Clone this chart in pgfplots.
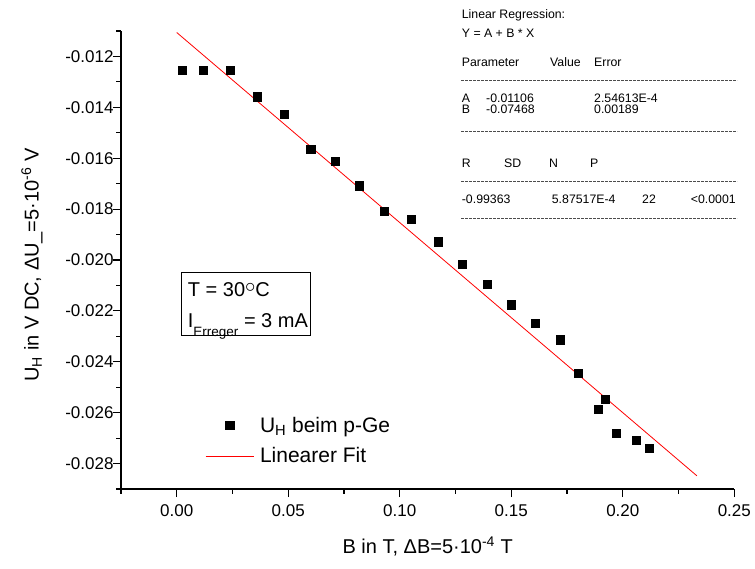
\documentclass[border=0pt]{standalone}
\usepackage{fontspec}
\setmainfont{Liberation Sans}
\usepackage{pgfplots}
\pgfplotsset{compat=1.18}
\newcommand\tabfont{\fontsize{12.3bp}{14bp}\selectfont}
\begin{document}
\begin{tikzpicture}
\begin{axis}[
  scale only axis, width=613.3bp, height=458bp,
  xmin=-0.025, xmax=0.25, ymin=-0.029, ymax=-0.011,
  axis lines*=left,
  axis line style={line width=1.3bp},
  tick style={line width=1.1bp, black},
  tick align=outside,
  major tick length=8bp, minor tick length=4.5bp,
  xtick={0,0.05,0.1,0.15,0.2,0.25},
  minor xtick={-0.025,0.025,0.075,0.125,0.175,0.225},
  ytick={-0.028,-0.026,-0.024,-0.022,-0.020,-0.018,-0.016,-0.014,-0.012},
  minor ytick={-0.029,-0.027,-0.025,-0.023,-0.021,-0.019,-0.017,-0.015,-0.013,-0.011},
  scaled x ticks=false, scaled y ticks=false,
  xticklabel style={yshift=-4bp, /pgf/number format/.cd, fixed, fixed zerofill, precision=2},
  yticklabel style={xshift=4bp, /pgf/number format/.cd, fixed, fixed zerofill, precision=3},
  /pgf/number format/assume math mode=true,
  ticklabel style={font=\fontsize{17bp}{19bp}\selectfont},
  xlabel={B in T, ΔB=5·10\textsuperscript{-4} T},
  ylabel={U\textsubscript{H} in V DC, ΔU\_=5·10\textsuperscript{-6} V},
  label style={font=\fontsize{20bp}{22bp}\selectfont},
  x label style={at={(axis description cs:0.5,-0.126)}, anchor=center},
  y label style={at={(axis description cs:-0.145,0.489)}, anchor=center},
  legend cell align=left,
  legend image code/.code={\draw[mark repeat=2,mark phase=2] plot coordinates {(0bp,0bp) (24bp,0bp) (48bp,0bp)};},
  legend style={draw=none, fill=none, at={(axis description cs:0.137,0.162)}, anchor=north west,
    font=\fontsize{21bp}{23bp}\selectfont, row sep=10bp, inner sep=0pt,
    /tikz/every odd column/.append style={column sep=4bp}},
]
\addplot[only marks, mark=square*, mark size=4.1bp, black] coordinates {
(0.0023,-0.01254) (0.0120,-0.01253) (0.0241,-0.01255) (0.0361,-0.01358)
(0.0480,-0.01427) (0.0601,-0.01564) (0.0710,-0.01612) (0.0819,-0.01708)
(0.0930,-0.01808) (0.1051,-0.01840) (0.1172,-0.01928) (0.1281,-0.02018)
(0.1391,-0.02095) (0.1500,-0.02176) (0.1609,-0.02247) (0.1720,-0.02313)
(0.1800,-0.02444) (0.1890,-0.02586) (0.1921,-0.02546) (0.1972,-0.02680)
(0.2060,-0.02709) (0.2120,-0.02739)
};
\addlegendentry{U\textsubscript{H} beim p-Ge}
\addplot[red, line width=0.8bp, no marks] coordinates {(0,-0.01106) (0.2332,-0.02848)};
\addlegendentry{Linearer Fit}
\end{axis}
% annotation box
\draw[line width=1bp] (60bp,153bp) rectangle (189bp,216bp);
\node[anchor=base west, inner sep=0pt, font=\fontsize{20bp}{22bp}\selectfont] at (66.7bp,192.3bp) {T = 30\raisebox{0.2em}{$\circ$}C};
\node[anchor=base west, inner sep=0pt, font=\fontsize{20bp}{22bp}\selectfont] at (66.7bp,161bp) {I\raisebox{-0.45em}{\fontsize{13.5bp}{14bp}\selectfont Erreger} = 3 mA};
% regression table
\node[anchor=base west, inner sep=0pt, font=\tabfont] at (340.7bp,470.7bp) {Linear Regression:};
\node[anchor=base west, inner sep=0pt, font=\tabfont] at (340.7bp,451.3bp) {Y = A + B * X};
\node[anchor=base west, inner sep=0pt, font=\tabfont] at (340.7bp,422.3bp) {Parameter};
\node[anchor=base west, inner sep=0pt, font=\tabfont] at (429bp,422.3bp) {Value};
\node[anchor=base west, inner sep=0pt, font=\tabfont] at (473bp,422.3bp) {Error};
\node[anchor=base west, inner sep=0pt, font=\tabfont] at (340.7bp,386.7bp) {A};
\node[anchor=base west, inner sep=0pt, font=\tabfont] at (365bp,386.7bp) {-0.01106};
\node[anchor=base west, inner sep=0pt, font=\tabfont] at (473bp,386.7bp) {2.54613E-4};
\node[anchor=base west, inner sep=0pt, font=\tabfont] at (340.7bp,375bp) {B};
\node[anchor=base west, inner sep=0pt, font=\tabfont] at (365bp,375bp) {-0.07468};
\node[anchor=base west, inner sep=0pt, font=\tabfont] at (473bp,375bp) {0.00189};
\node[anchor=base west, inner sep=0pt, font=\tabfont] at (340.7bp,321.3bp) {R};
\node[anchor=base west, inner sep=0pt, font=\tabfont] at (383bp,321.3bp) {SD};
\node[anchor=base west, inner sep=0pt, font=\tabfont] at (428bp,321.3bp) {N};
\node[anchor=base west, inner sep=0pt, font=\tabfont] at (469bp,321.3bp) {P};
\node[anchor=base west, inner sep=0pt, font=\tabfont] at (340.7bp,285bp) {-0.99363};
\node[anchor=base west, inner sep=0pt, font=\tabfont] at (430.7bp,285bp) {5.87517E-4};
\node[anchor=base west, inner sep=0pt, font=\tabfont] at (521bp,285bp) {22};
\node[anchor=base west, inner sep=0pt, font=\tabfont] at (569.7bp,285bp) {<0.0001};
\foreach \yy in {409,358,307.3,270.7}{
  \draw[dash pattern=on 2.5bp off 1.5bp, line width=0.6bp, black!70] (340bp,\yy bp) -- (616bp,\yy bp);
}
\pgfresetboundingbox
\path (-121bp,-80bp) rectangle (634bp,489bp);
\end{tikzpicture}
\end{document}
